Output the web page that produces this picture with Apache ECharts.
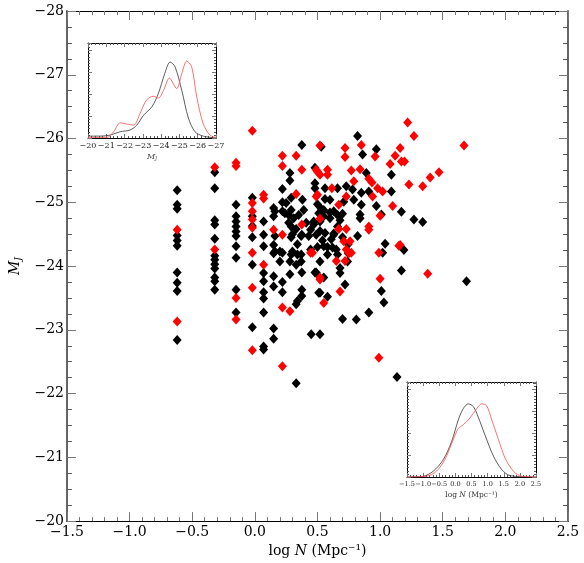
<!DOCTYPE html>
<html>
<head>
<meta charset="utf-8">
<script src="https://cdn.jsdelivr.net/npm/echarts@6/dist/echarts.min.js"></script>
<style>
  html, body { margin: 0; padding: 0; background: #fff; }
  #chart { width: 584px; height: 563px; }
</style>
</head>
<body>
<div id="chart"></div>
<script>
// galaxies: [log N, M_J]
const blackPts = [
  // log N ~ -0.62
  [-0.62, -25.19], [-0.62, -24.96], [-0.62, -24.90], [-0.62, -24.48], [-0.62, -24.40], [-0.62, -24.32],
  [-0.62, -23.90], [-0.62, -23.74], [-0.62, -23.61], [-0.62, -22.84],
  // ~ -0.32
  [-0.32, -25.47], [-0.32, -25.22], [-0.32, -24.72], [-0.32, -24.65], [-0.32, -24.43], [-0.32, -24.16],
  [-0.32, -24.10], [-0.32, -24.03], [-0.32, -23.96], [-0.32, -23.82], [-0.32, -23.76], [-0.32, -23.63],
  // ~ -0.15
  [-0.15, -24.96], [-0.15, -24.78], [-0.15, -24.70], [-0.15, -24.62], [-0.15, -24.54], [-0.15, -24.47],
  [-0.15, -24.31], [-0.15, -24.13], [-0.15, -23.63], [-0.15, -23.27],
  // ~ 0.0
  [-0.02, -25.07], [-0.02, -24.78], [-0.02, -24.63], [-0.02, -24.45], [-0.02, -24.02], [-0.02, -23.04],
  // ~ 0.07
  [0.07, -24.70], [0.07, -24.49], [0.07, -24.31], [0.07, -23.89], [0.07, -23.76], [0.07, -23.59],
  [0.07, -23.49], [0.07, -23.27], [0.07, -22.74], [0.07, -22.69],
  // ~ 0.15
  [0.15, -24.91], [0.15, -24.78], [0.15, -24.33], [0.15, -24.20], [0.15, -23.84], [0.15, -23.68],
  [0.15, -23.02], [0.15, -22.86], [0.16, -24.86], [0.16, -24.47], [0.16, -24.23],
  // ~ 0.22
  [0.22, -25.21], [0.22, -25.00], [0.22, -24.86], [0.22, -24.21], [0.22, -23.75], [0.22, -23.59],
  [0.25, -24.99], [0.24, -24.83], [0.20, -24.23], [0.20, -24.07],
  // 0.27 - 0.43
  [0.28, -25.46], [0.28, -25.34], [0.29, -25.07], [0.29, -24.88], [0.27, -24.80], [0.31, -24.75],
  [0.35, -24.80], [0.29, -24.62], [0.33, -24.58], [0.30, -24.50], [0.29, -24.45], [0.34, -24.34],
  [0.29, -24.18], [0.28, -23.87], [0.375, -25.90], [0.375, -24.49], [0.34, -24.18], [0.37, -24.18],
  [0.33, -24.02], [0.375, -23.90], [0.375, -23.63], [0.375, -23.53], [0.34, -23.45], [0.33, -23.40],
  [0.33, -22.16], [0.38, -25.04], [0.39, -24.88], [0.27, -24.68], [0.41, -24.68], [0.37, -24.47],
  [0.43, -24.47], [0.30, -24.23], [0.28, -24.07], [0.37, -24.07],
  // 0.44 - 0.55
  [0.445, -24.57], [0.49, -24.49], [0.52, -24.70], [0.445, -24.26], [0.49, -23.90], [0.51, -23.58],
  [0.45, -22.93], [0.53, -25.87], [0.48, -25.54], [0.48, -25.22], [0.50, -24.97], [0.53, -24.90],
  [0.51, -24.83], [0.55, -24.78], [0.52, -24.55], [0.50, -24.30], [0.47, -24.65], [0.54, -24.40],
  [0.48, -23.90], [0.55, -23.82], [0.52, -23.58], [0.58, -23.52], [0.52, -22.93], [0.48, -25.30],
  [0.55, -24.88], [0.47, -24.70], [0.55, -24.31], [0.52, -24.07],
  // 0.56 - 0.70
  [0.56, -25.22], [0.66, -25.22], [0.56, -25.05], [0.60, -25.04], [0.60, -24.84], [0.66, -24.80],
  [0.70, -24.82], [0.60, -24.75], [0.68, -24.72], [0.56, -24.52], [0.63, -24.51], [0.66, -24.62],
  [0.61, -24.42], [0.70, -24.45], [0.58, -24.30], [0.62, -24.29], [0.58, -24.18], [0.66, -24.18],
  [0.68, -23.97], [0.68, -23.89], [0.72, -23.71], [0.70, -23.17], [0.63, -24.86], [0.63, -24.49],
  [0.65, -24.26],
  // 0.70 - 0.90
  [0.73, -25.25], [0.71, -25.01], [0.79, -25.04], [0.78, -25.20], [0.85, -25.15], [0.85, -24.96],
  [0.84, -24.81], [0.84, -24.75], [0.82, -24.47], [0.82, -26.04], [0.86, -25.75], [0.89, -25.46],
  [0.745, -24.20], [0.81, -23.16], [0.745, -24.34], [0.74, -24.07],
  // 0.90 - 1.70
  [0.97, -25.83], [1.09, -25.43], [0.91, -25.17], [1.09, -25.17], [0.97, -24.94], [1.01, -24.81],
  [1.04, -24.35], [1.02, -24.21], [1.17, -23.93], [1.01, -23.61], [1.03, -23.43], [0.91, -23.27],
  [1.135, -22.26], [1.17, -24.85], [1.27, -24.73], [1.34, -24.69], [1.19, -24.25], [1.69, -23.76]
];

const redPts = [
  [-0.62, -24.57], [-0.62, -23.13],
  [-0.32, -25.55], [-0.32, -24.26],
  [-0.15, -25.62], [-0.15, -25.57], [-0.15, -23.50], [-0.15, -23.16],
  [-0.02, -26.12], [-0.02, -24.99], [-0.02, -24.86], [-0.02, -24.73], [-0.02, -24.60], [-0.02, -24.21],
  [-0.02, -23.66], [-0.02, -22.68],
  [0.07, -25.12], [0.07, -25.06], [0.07, -24.02],
  [0.15, -24.57],
  [0.22, -25.73], [0.22, -25.57], [0.22, -24.49], [0.22, -23.35], [0.22, -22.43],
  [0.33, -25.73], [0.375, -25.51], [0.33, -25.13], [0.375, -24.65], [0.28, -23.29],
  [0.52, -25.89], [0.49, -25.51], [0.52, -25.43], [0.49, -25.09], [0.445, -24.21], [0.52, -23.79],
  [0.50, -25.48], [0.52, -24.74], [0.46, -24.21], [0.52, -23.82], [0.55, -23.42], [0.50, -25.12],
  [0.58, -25.51], [0.58, -25.43], [0.615, -25.22], [0.67, -24.96], [0.67, -24.58], [0.65, -24.08],
  [0.72, -24.08], [0.68, -23.60],
  [0.72, -25.85], [0.72, -25.71], [0.73, -25.09], [0.77, -25.50], [0.84, -25.52], [0.79, -25.33],
  [0.73, -24.58], [0.71, -24.39], [0.76, -24.39], [0.73, -24.26], [0.77, -24.21], [0.75, -24.20],
  [0.85, -25.90],
  [1.16, -25.85], [1.12, -25.73], [1.08, -25.60], [1.17, -25.64], [0.96, -25.72], [0.91, -25.37],
  [0.935, -25.31], [0.98, -25.22], [1.02, -25.17], [0.94, -25.09], [1.10, -24.94], [1.00, -24.79],
  [0.91, -24.62], [0.91, -24.57], [1.15, -24.32], [0.99, -24.21], [1.00, -23.80], [0.99, -22.56],
  [1.22, -26.25], [1.27, -26.04], [1.195, -25.64], [1.67, -25.89], [1.47, -25.47], [1.40, -25.39],
  [1.23, -25.28], [1.34, -25.25], [1.16, -24.33], [1.38, -23.88]
];

// inset 1: distribution of M_J (normalised height)
const mjBlack = [
  [-20, 0.02], [-20.67, 0.02], [-21.2, 0.03], [-21.76, 0.066], [-22.3, 0.084], [-22.67, 0.136],
  [-23.04, 0.24], [-23.5, 0.33], [-23.85, 0.47], [-24.2, 0.68], [-24.49, 0.80], [-24.76, 0.75],
  [-25.13, 0.50], [-25.49, 0.21], [-25.85, 0.066], [-26.3, 0.02], [-27, 0.0]
];
const mjRed = [
  [-20, 0.007], [-21.04, 0.007], [-21.4, 0.066], [-21.76, 0.16], [-22.13, 0.147], [-22.5, 0.136],
  [-22.85, 0.26], [-23.2, 0.40], [-23.58, 0.44], [-23.85, 0.42], [-24.13, 0.50], [-24.45, 0.63],
  [-24.85, 0.52], [-25.13, 0.68], [-25.4, 0.81], [-25.67, 0.75], [-25.95, 0.43], [-26.3, 0.15],
  [-26.67, 0.03], [-27, 0.007]
];

// inset 2: distribution of log N
const densBlack = [
  [-1.5, 0], [-1.0, 0.007], [-0.69, 0.06], [-0.38, 0.18], [-0.12, 0.37], [0.09, 0.60], [0.245, 0.72],
  [0.40, 0.77], [0.56, 0.74], [0.71, 0.63], [0.92, 0.44], [1.18, 0.22], [1.44, 0.077], [1.70, 0.014],
  [2.5, 0]
];
const densRed = [
  [-1.5, 0], [-0.9, 0.007], [-0.59, 0.06], [-0.33, 0.18], [-0.07, 0.39], [0.09, 0.51], [0.245, 0.55],
  [0.45, 0.62], [0.66, 0.72], [0.82, 0.77], [0.97, 0.75], [1.13, 0.60], [1.34, 0.39], [1.54, 0.20],
  [1.80, 0.06], [2.06, 0.007], [2.5, 0]
];

const FONT = 'DejaVu Serif'
const minus = v => String(v).replace('-', '\u2212')
const fmt1 = v => minus(v.toFixed(1))

function frameAxis(gridIndex, pos, opts, tickLen, lineColor, lineWidth) {
  return Object.assign({
    gridIndex: gridIndex,
    type: 'value',
    position: pos,
    axisLine: { onZero: false, lineStyle: { color: lineColor, width: lineWidth } },
    axisTick: { inside: true, length: tickLen, lineStyle: { color: '#777' } },
    splitLine: { show: false },
    axisLabel: { show: false }
  }, opts)
}

const chart = echarts.init(document.getElementById('chart'))

const mainX = { min: -1.5, max: 2.5, interval: 0.5, minorTick: { show: true, splitNumber: 5, length: 4, lineStyle: { color: '#777' } } }
const mainY = { min: -28, max: -20, interval: 1, inverse: true, minorTick: { show: true, splitNumber: 4, length: 5, lineStyle: { color: '#555' } } }
const in1X = { min: -27, max: -20, interval: 1, inverse: true, minorTick: { show: true, splitNumber: 5, length: 2, lineStyle: { color: '#555' } } }
const in1Y = { min: 0, max: 1, interval: 0.23, minorTick: { show: true, splitNumber: 7, length: 2, lineStyle: { color: '#555' } } }
const in2X = { min: -1.5, max: 2.5, interval: 0.5, minorTick: { show: true, splitNumber: 5, length: 2, lineStyle: { color: '#555' } } }
const in2Y = { min: 0, max: 1, interval: 0.23, minorTick: { show: true, splitNumber: 7, length: 2, lineStyle: { color: '#555' } } }

chart.setOption({
  animation: false,
  backgroundColor: '#fff',
  textStyle: { fontFamily: FONT },
  grid: [
    { left: 56, top: 11, width: 512, height: 511 },
    { left: 88, top: 43, width: 128, height: 95, show: true, backgroundColor: '#fff', borderWidth: 0 },
    { left: 407, top: 382, width: 129, height: 95, show: true, backgroundColor: '#fff', borderWidth: 0 }
  ],
  xAxis: [
    frameAxis(0, 'bottom', Object.assign({}, mainX, {
      axisLabel: { show: true, formatter: fmt1, fontSize: 14, fontFamily: FONT, color: '#000', margin: 4 },
      name: '{a|log }{i|N}{a| (Mpc\u207B\u00B9)}',
      nameLocation: 'middle',
      nameGap: 19,
      nameTextStyle: {
        rich: {
          a: { fontSize: 14, fontFamily: FONT, color: '#000' },
          i: { fontSize: 14, fontFamily: FONT, fontStyle: 'italic', color: '#000' }
        }
      }
    }), 9, '#000', 1),
    frameAxis(0, 'top', mainX, 9, '#000', 1),
    frameAxis(1, 'bottom', Object.assign({}, in1X, {
      axisLabel: { show: true, formatter: v => minus(v), fontSize: 8, fontFamily: FONT, color: '#222', margin: 4, showMinLabel: true, showMaxLabel: true },
      name: '{i|M}{s|J}',
      nameLocation: 'middle',
      nameGap: 14,
      nameTextStyle: {
        rich: {
          i: { fontSize: 8, fontFamily: FONT, fontStyle: 'italic', color: '#444' },
          s: { fontSize: 5, fontFamily: FONT, fontStyle: 'italic', color: '#444', padding: [4, 0, 0, 0] }
        }
      }
    }), 4, '#000', 1),
    frameAxis(1, 'top', in1X, 4, '#000', 1),
    frameAxis(2, 'bottom', Object.assign({}, in2X, {
      axisLabel: { show: true, formatter: fmt1, fontSize: 6.5, fontFamily: FONT, color: '#222', margin: 4, showMinLabel: true, showMaxLabel: true, hideOverlap: false },
      name: '{a|log }{i|N}{a| (Mpc\u207B\u00B9)}',
      nameLocation: 'middle',
      nameGap: 14,
      nameTextStyle: {
        rich: {
          a: { fontSize: 7.5, fontFamily: FONT, color: '#333' },
          i: { fontSize: 7.5, fontFamily: FONT, fontStyle: 'italic', color: '#333' }
        }
      }
    }), 4, '#000', 1),
    frameAxis(2, 'top', in2X, 4, '#000', 1)
  ],
  yAxis: [
    frameAxis(0, 'left', Object.assign({}, mainY, {
      axisLabel: { show: true, formatter: v => minus(v), fontSize: 14, fontFamily: FONT, color: '#000', margin: 3 },
      name: '{i|M}{s|J}',
      nameLocation: 'middle',
      nameGap: 38,
      nameRotate: 90,
      nameTextStyle: {
        rich: {
          i: { fontSize: 14, fontFamily: FONT, fontStyle: 'italic', color: '#000' },
          s: { fontSize: 9, fontFamily: FONT, fontStyle: 'italic', color: '#000', padding: [8, 0, 0, 0] }
        }
      }
    }), 9, '#666', 2),
    frameAxis(0, 'right', mainY, 9, '#666', 2),
    frameAxis(1, 'left', in1Y, 4, '#000', 1),
    frameAxis(1, 'right', in1Y, 4, '#000', 1),
    frameAxis(2, 'left', in2Y, 4, '#000', 1),
    frameAxis(2, 'right', in2Y, 4, '#000', 1)
  ],
  series: [
    {
      type: 'scatter', xAxisIndex: 0, yAxisIndex: 0,
      symbol: 'diamond', symbolSize: [9, 10],
      itemStyle: { color: '#000', opacity: 1 },
      data: blackPts
    },
    {
      type: 'scatter', xAxisIndex: 0, yAxisIndex: 0,
      symbol: 'diamond', symbolSize: [9, 10],
      itemStyle: { color: '#ff0000', opacity: 1 },
      data: redPts
    },
    {
      type: 'line', xAxisIndex: 2, yAxisIndex: 2, smooth: 0.3, symbol: 'none',
      lineStyle: { color: '#333', width: 0.8 }, data: mjBlack
    },
    {
      type: 'line', xAxisIndex: 2, yAxisIndex: 2, smooth: 0.3, symbol: 'none',
      lineStyle: { color: '#ff4d4d', width: 0.8 }, data: mjRed
    },
    {
      type: 'line', xAxisIndex: 4, yAxisIndex: 4, smooth: 0.3, symbol: 'none',
      lineStyle: { color: '#333', width: 0.8 }, data: densBlack
    },
    {
      type: 'line', xAxisIndex: 4, yAxisIndex: 4, smooth: 0.3, symbol: 'none',
      lineStyle: { color: '#ff4d4d', width: 0.8 }, data: densRed
    }
  ]
})
</script>
</body>
</html>
